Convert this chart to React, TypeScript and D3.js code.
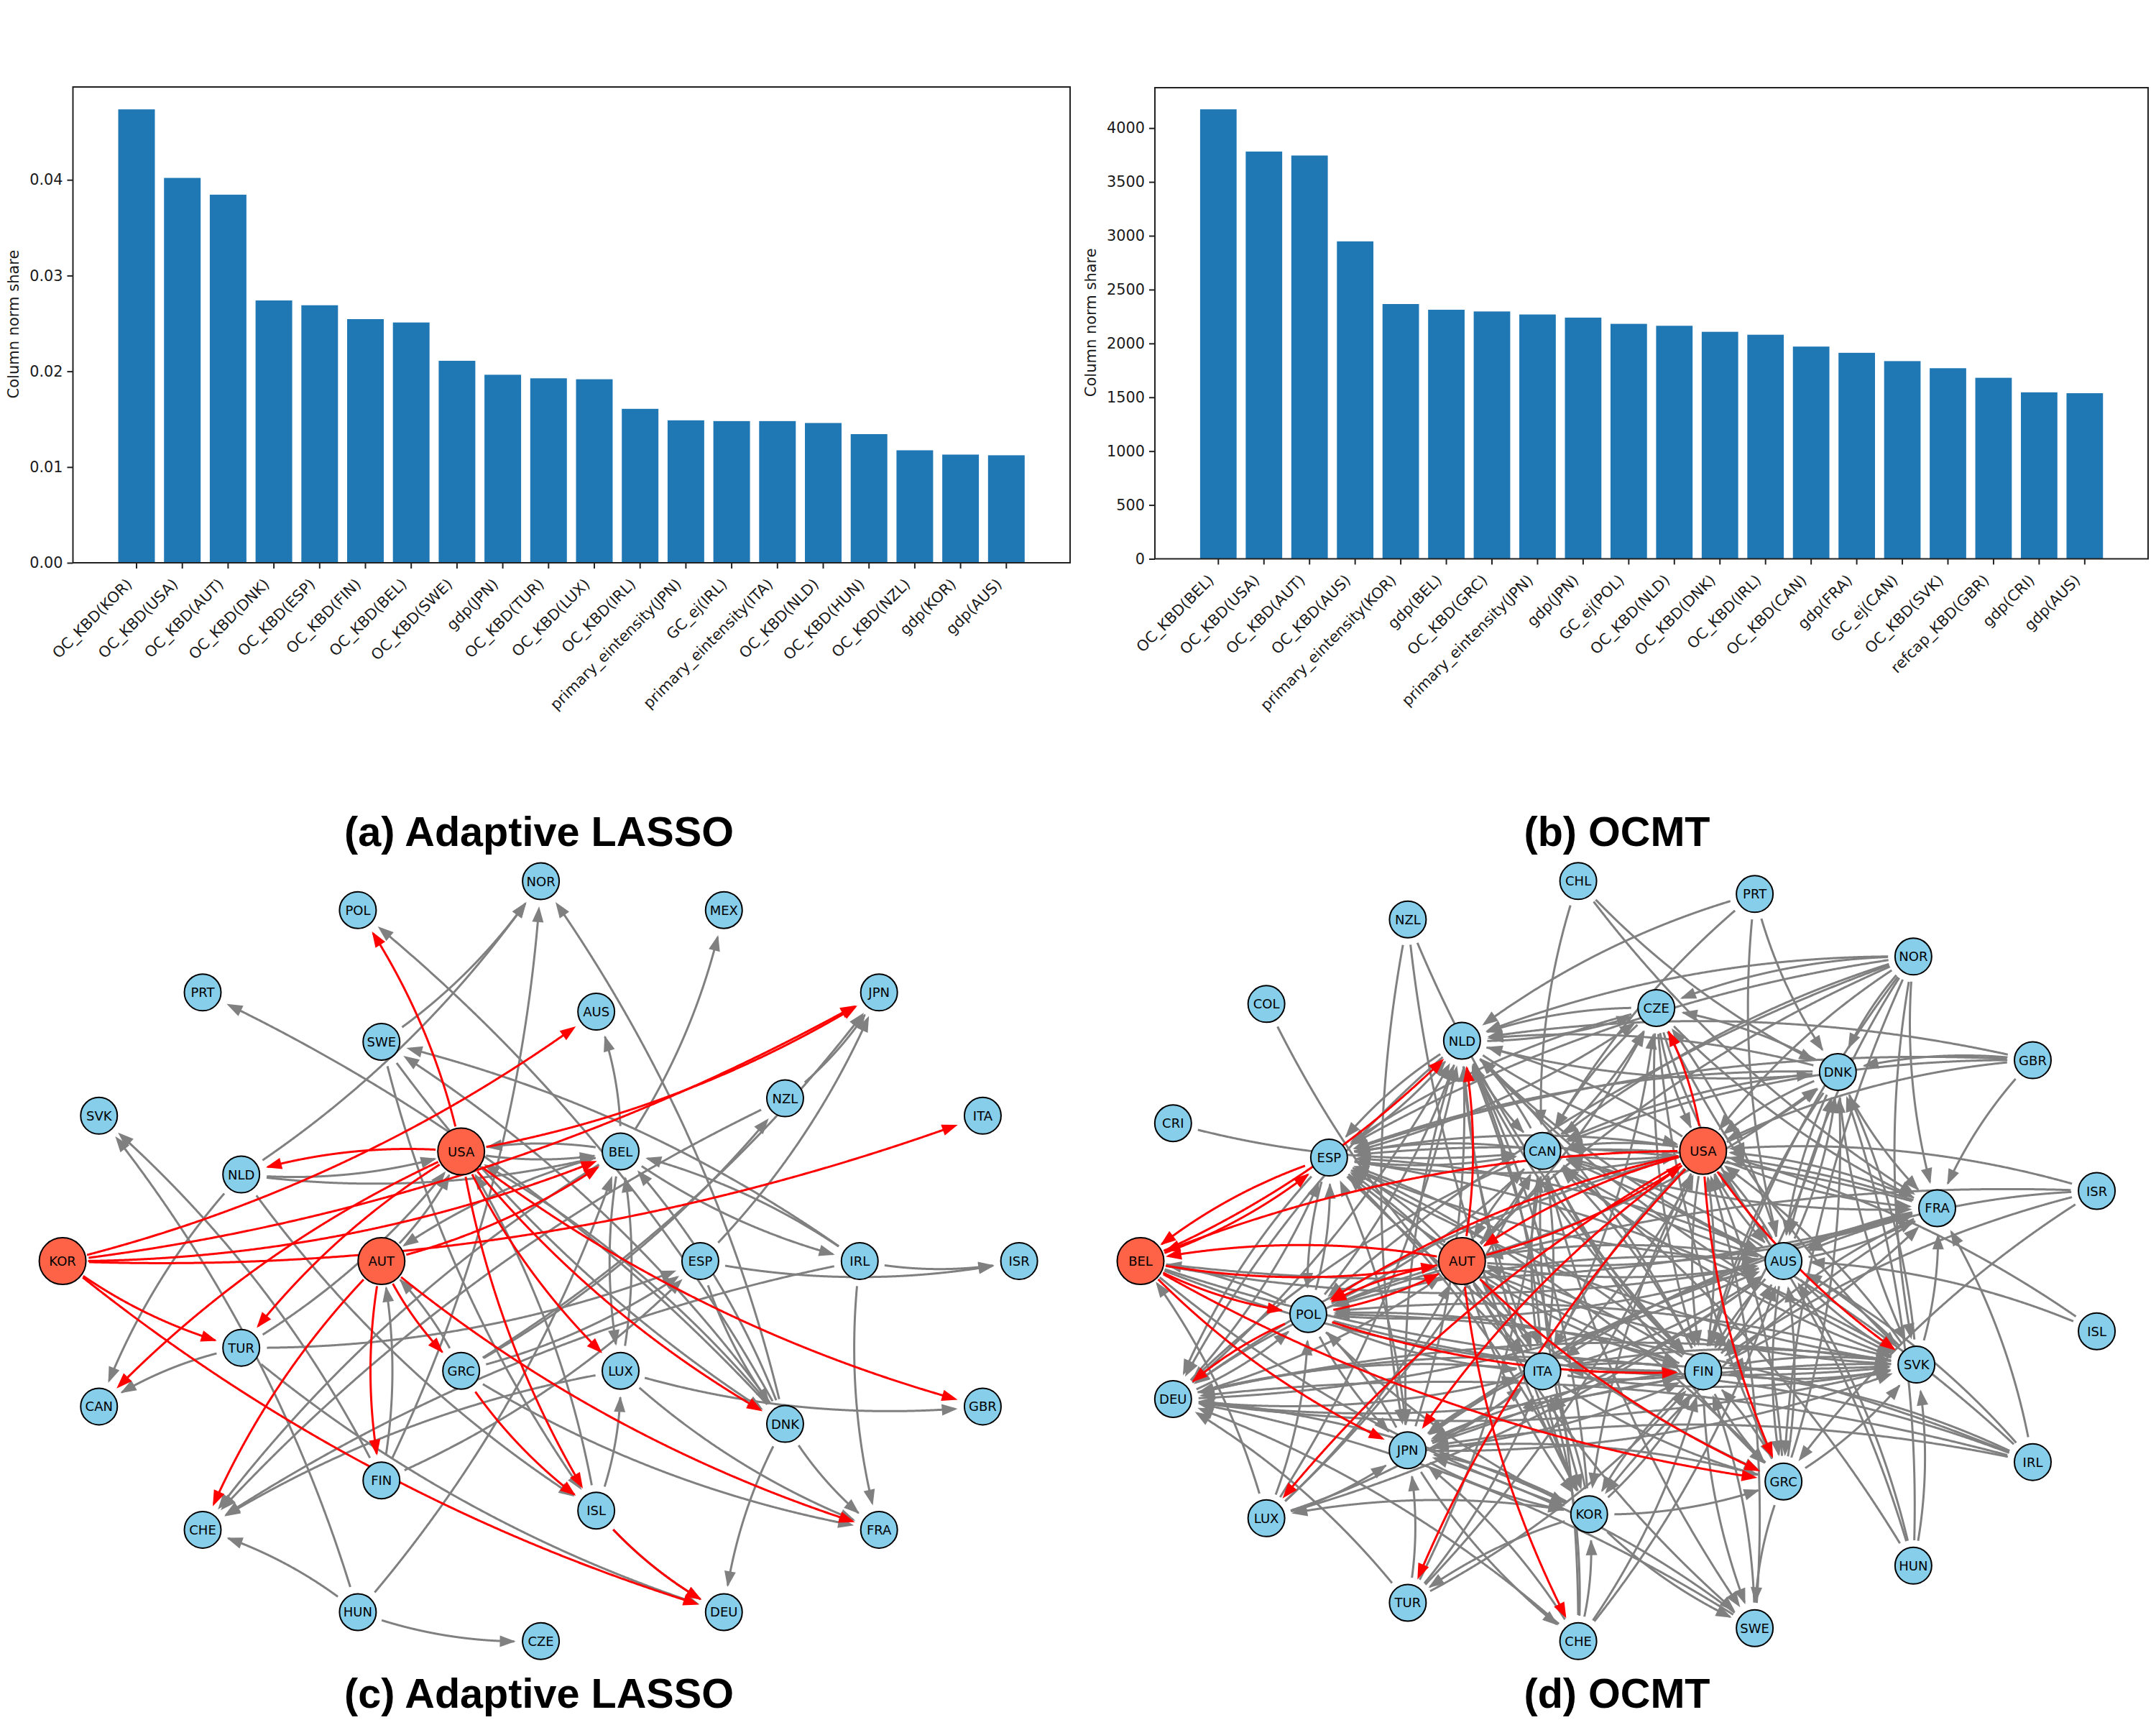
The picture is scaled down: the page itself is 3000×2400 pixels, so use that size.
import * as d3 from 'd3';
import { useEffect, useRef } from 'react';

const lassoLabels = ['OC_KBD(KOR)', 'OC_KBD(USA)', 'OC_KBD(AUT)', 'OC_KBD(DNK)', 'OC_KBD(ESP)', 'OC_KBD(FIN)', 'OC_KBD(BEL)', 'OC_KBD(SWE)', 'gdp(JPN)', 'OC_KBD(TUR)', 'OC_KBD(LUX)', 'OC_KBD(IRL)', 'primary_eintensity(JPN)', 'GC_ej(IRL)', 'primary_eintensity(ITA)', 'OC_KBD(NLD)', 'OC_KBD(HUN)', 'OC_KBD(NZL)', 'gdp(KOR)', 'gdp(AUS)'];
const lassoValues = [0.04736, 0.0402, 0.03845, 0.0274, 0.0269, 0.02545, 0.0251, 0.0211, 0.01964, 0.01927, 0.01917, 0.01608, 0.01488, 0.0148, 0.0148, 0.0146, 0.01344, 0.01175, 0.0113, 0.01123];
const lassoTicks = [0, 0.01, 0.02, 0.03, 0.04];

const ocmtLabels = ['OC_KBD(BEL)', 'OC_KBD(USA)', 'OC_KBD(AUT)', 'OC_KBD(AUS)', 'primary_eintensity(KOR)', 'gdp(BEL)', 'OC_KBD(GRC)', 'primary_eintensity(JPN)', 'gdp(JPN)', 'GC_ej(POL)', 'OC_KBD(NLD)', 'OC_KBD(DNK)', 'OC_KBD(IRL)', 'OC_KBD(CAN)', 'gdp(FRA)', 'GC_ej(CAN)', 'OC_KBD(SVK)', 'refcap_KBD(GBR)', 'gdp(CRI)', 'gdp(AUS)'];
const ocmtValues = [4174, 3782, 3745, 2948, 2366, 2313, 2297, 2269, 2240, 2182, 2164, 2108, 2081, 1971, 1913, 1836, 1770, 1681, 1546, 1538];
const ocmtTicks = [0, 500, 1000, 1500, 2000, 2500, 3000, 3500, 4000];

// shells go clockwise on screen, starting from the angle given in the shell
const lassoOuter = ['KOR', 'SVK', 'PRT', 'POL', 'NOR', 'MEX', 'JPN', 'ITA', 'ISR', 'GBR', 'FRA', 'DEU', 'CZE', 'HUN', 'CHE', 'CAN'];
const lassoMiddle = ['IRL', 'DNK', 'ISL', 'FIN', 'TUR', 'NLD', 'SWE', 'AUS', 'NZL'];
const lassoInner = ['AUT', 'USA', 'BEL', 'ESP', 'LUX', 'GRC'];
const lassoHubs = ['KOR', 'USA', 'AUT'];

const ocmtOuter = ['BEL', 'CRI', 'COL', 'NZL', 'CHL', 'PRT', 'NOR', 'GBR', 'ISR', 'ISL', 'IRL', 'HUN', 'SWE', 'CHE', 'TUR', 'LUX', 'DEU'];
const ocmtMiddle = ['POL', 'ESP', 'NLD', 'CZE', 'DNK', 'FRA', 'SVK', 'GRC', 'KOR', 'JPN'];
const ocmtInner = ['AUT', 'CAN', 'USA', 'AUS', 'FIN', 'ITA'];
const ocmtHubs = ['BEL', 'USA', 'AUT'];

const lassoRed = 'USA>POL USA>NLD USA>TUR USA>CAN USA>JPN USA>DNK USA>GBR USA>LUX USA>ISL KOR>TUR KOR>DEU KOR>ITA KOR>AUS KOR>JPN KOR>BEL AUT>FIN AUT>CHE AUT>GRC AUT>FRA AUT>BEL GRC>ISL ISL>DEU'.split(' ');
const lassoGray = 'NLD>NOR SWE>NOR FIN>NOR DNK>NOR DNK>POL DNK>PRT BEL>MEX BEL>AUS IRL>SWE DNK>SWE SWE>ISL SWE>DNK NZL>JPN ESP>JPN GRC>JPN GRC>NZL NZL>CHE IRL>BEL BEL>IRL BEL>USA USA>BEL NLD>USA NLD>BEL TUR>ESP GRC>ESP TUR>USA AUT>USA BEL>AUT LUX>BEL BEL>LUX ISL>LUX DNK>BEL DNK>USA ISL>USA IRL>ISR ESP>ISR IRL>FRA LUX>GBR LUX>FRA LUX>CHE GRC>FRA DNK>FRA DNK>DEU BEL>CHE IRL>CHE HUN>BEL HUN>CHE HUN>CZE HUN>SVK FIN>SVK TUR>DEU TUR>CAN FIN>AUT NLD>CAN NLD>ISL ISL>DEU GRC>AUT FIN>ESP ESP>DNK'.split(' ');

const ocmtRed = 'USA>CZE USA>BEL USA>AUT AUT>USA USA>POL AUT>POL POL>AUT BEL>AUT AUT>BEL BEL>NLD AUT>NLD ESP>BEL BEL>ESP BEL>POL POL>FIN BEL>JPN BEL>GRC AUT>GRC USA>JPN USA>LUX USA>TUR AUT>CHE USA>GRC USA>SVK POL>DEU'.split(' ');
const ocmtGrayOuter = 'NZL>JPN NZL>KOR NZL>FIN COL>ITA CRI>CAN CHL>CAN CHL>DNK CHL>FRA PRT>NLD PRT>CAN PRT>DNK PRT>AUS NOR>NLD NOR>CZE NOR>ESP NOR>CAN NOR>USA NOR>AUT NOR>DNK NOR>POL NOR>FRA NOR>AUS NOR>SVK NOR>GRC NOR>FIN GBR>NLD GBR>DNK GBR>USA GBR>CAN GBR>FRA GBR>ESP ISR>USA ISR>AUS ISR>POL ISR>FIN ISR>GRC ISL>USA ISL>AUS IRL>AUS IRL>FRA IRL>FIN IRL>ITA IRL>JPN IRL>DEU IRL>POL IRL>CAN HUN>SVK HUN>AUS HUN>USA HUN>CAN HUN>DNK SWE>USA SWE>JPN SWE>DEU SWE>FIN CHE>DEU CHE>ITA CHE>KOR CHE>FIN CHE>AUS CHE>NLD CHE>JPN TUR>DEU TUR>JPN TUR>ITA TUR>FIN TUR>CAN TUR>USA LUX>BEL LUX>JPN LUX>POL LUX>NLD LUX>ITA LUX>AUS LUX>CAN LUX>AUT DEU>ESP DEU>POL DEU>ITA DEU>NLD DEU>AUS DEU>FIN DEU>SVK DEU>AUT BEL>FIN BEL>SVK BEL>AUS BEL>FRA BEL>KOR'.split(' ');
const ocmtGrayMiddle = 'ESP>CAN ESP>USA ESP>AUS ESP>FIN ESP>SVK ESP>GRC ESP>DEU ESP>NLD ESP>CZE ESP>POL NLD>ESP NLD>CZE NLD>USA NLD>DNK NLD>AUS NLD>FIN NLD>KOR NLD>JPN NLD>CAN NLD>SVK NLD>ITA NLD>DEU CZE>NLD CZE>ESP CZE>CAN CZE>USA CZE>FRA CZE>AUS CZE>GRC CZE>FIN CZE>SVK DNK>CZE DNK>NLD DNK>ESP DNK>USA DNK>CAN DNK>FRA DNK>SVK DNK>AUS DNK>FIN FRA>AUS FRA>FIN FRA>USA FRA>ESP FRA>JPN FRA>KOR FRA>CAN FRA>ITA SVK>FIN SVK>AUS SVK>FRA SVK>ITA SVK>ESP SVK>USA SVK>JPN SVK>DEU SVK>DNK SVK>POL GRC>SWE GRC>AUS GRC>FIN GRC>JPN GRC>DNK GRC>SVK GRC>USA GRC>ESP KOR>JPN KOR>GRC KOR>TUR KOR>LUX KOR>SWE KOR>ITA KOR>ESP KOR>NLD KOR>FIN KOR>DEU JPN>POL JPN>ESP JPN>NLD JPN>SVK JPN>ITA JPN>FIN JPN>AUS JPN>KOR JPN>CHE POL>ESP POL>NLD POL>CAN POL>AUS POL>SVK POL>ITA POL>KOR POL>JPN POL>BEL'.split(' ');
const ocmtGrayInner = 'AUT>CZE AUT>ESP AUT>CAN AUT>AUS AUT>FIN AUT>SVK AUT>ITA AUT>KOR AUT>SWE AUT>DEU AUT>FRA AUT>DNK CAN>ESP CAN>CZE CAN>NLD CAN>USA CAN>AUS CAN>FIN CAN>KOR CAN>FRA CAN>SVK CAN>GRC CAN>ITA CAN>AUT CAN>SWE CAN>DEU USA>ESP USA>NLD USA>FRA USA>ITA USA>FIN USA>KOR USA>DNK USA>AUS USA>DEU USA>CAN AUS>USA AUS>DNK AUS>FRA AUS>SVK AUS>FIN AUS>GRC AUS>CAN AUS>ESP AUS>AUT AUS>POL AUS>CZE AUS>JPN FIN>AUS FIN>USA FIN>CAN FIN>AUT FIN>ESP FIN>NLD FIN>SVK FIN>GRC FIN>KOR FIN>SWE FIN>JPN FIN>ITA FIN>POL FIN>DEU FIN>DNK FIN>FRA ITA>FIN ITA>AUT ITA>USA ITA>CAN ITA>ESP ITA>NLD ITA>SVK ITA>JPN ITA>KOR ITA>AUS ITA>GRC ITA>DEU ITA>CZE'.split(' ');

const barColor = '#1f77b4';
const leafColor = '#87ceeb';
const hubColor = '#ff6347';
const edgeGray = '#808080';
const edgeRed = '#ff0000';
const dejavu = '"DejaVu Sans", sans-serif';

type Pt = { x: number; y: number };

function drawBars(
  svg: d3.Selection<SVGSVGElement, unknown, null, undefined>,
  opts: { left: number; right: number; top: number; bottom: number; firstTick: number; step: number; yMax: number; labels: string[]; values: number[]; ticks: number[]; format: (d: number) => string; labelX: number }
) {
  const { left, right, top, bottom, firstTick, step, yMax, labels, values, ticks, format, labelX } = opts;
  const x = d3
    .scaleBand<string>()
    .domain(labels)
    .range([firstTick - step / 2, firstTick - step / 2 + step * labels.length])
    .paddingInner(0.2)
    .paddingOuter(0.1);
  const y = d3.scaleLinear().domain([0, yMax]).range([bottom, top]);
  const g = svg.append('g');

  g.selectAll('rect.bar')
    .data(values)
    .enter()
    .append('rect')
    .attr('class', 'bar')
    .attr('x', (_, i) => x(labels[i]) as number)
    .attr('y', (d) => y(d))
    .attr('width', x.bandwidth())
    .attr('height', (d) => bottom - y(d))
    .attr('fill', barColor);

  g.append('rect')
    .attr('x', left)
    .attr('y', top)
    .attr('width', right - left)
    .attr('height', bottom - top)
    .attr('fill', 'none')
    .attr('stroke', '#222')
    .attr('stroke-width', 2);

  g.append('g')
    .attr('transform', `translate(${left},0)`)
    .call(d3.axisLeft(y).tickValues(ticks).tickSize(8).tickPadding(6).tickFormat((d) => format(d as number)))
    .call((a) => a.select('.domain').remove())
    .call((a) => a.selectAll('.tick line').attr('stroke', '#222').attr('stroke-width', 2))
    .call((a) => a.selectAll('.tick text').attr('fill', '#1a1a1a').style('font-size', '20.8px').style('font-family', dejavu));

  g.append('g')
    .attr('transform', `translate(0,${bottom})`)
    .call(d3.axisBottom(x).tickSize(8).tickPadding(0))
    .call((a) => a.select('.domain').remove())
    .call((a) => a.selectAll('.tick line').attr('stroke', '#222').attr('stroke-width', 2))
    .call((a) =>
      a
        .selectAll('.tick text')
        .attr('fill', '#1a1a1a')
        .attr('dy', 0)
        .attr('y', 0)
        .attr('text-anchor', 'end')
        .attr('transform', 'translate(-5,31) rotate(-45)')
        .style('font-size', '21px')
        .style('font-family', dejavu)
    );

  g.append('text')
    .attr('transform', `translate(${labelX},${(top + bottom) / 2 - 1}) rotate(-90)`)
    .attr('text-anchor', 'middle')
    .attr('dominant-baseline', 'central')
    .attr('fill', '#1a1a1a')
    .style('font-size', '21px')
    .style('font-family', dejavu)
    .text('Column norm share');
}

function drawNetwork(
  svg: d3.Selection<SVGSVGElement, unknown, null, undefined>,
  opts: {
    cx: number;
    cy: number;
    rx: number;
    ry: number;
    shells: { names: string[]; start: number; radius: number }[];
    hubs: string[];
    gray: string[];
    red: string[];
  }
) {
  const { cx, cy, rx, ry, shells, hubs, gray, red } = opts;
  const x = d3.scaleLinear().domain([-1, 1]).range([cx - rx, cx + rx]);
  const y = d3.scaleLinear().domain([-1, 1]).range([cy - ry, cy + ry]);

  const pos = new Map<string, Pt>();
  shells.forEach((shell) => {
    shell.names.forEach((name, i) => {
      const a = ((shell.start + (i * 360) / shell.names.length) * Math.PI) / 180;
      pos.set(name, { x: x(shell.radius * Math.cos(a)), y: y(shell.radius * Math.sin(a)) });
    });
  });

  const g = svg.append('g');
  const trim = 35;
  const rad = 0.1;

  const drawEdges = (list: string[], color: string) => {
    list.forEach((edge) => {
      const [from, to] = edge.split('>');
      const a = pos.get(from) as Pt;
      const b = pos.get(to) as Pt;
      const dx = b.x - a.x;
      const dy = b.y - a.y;
      const c = { x: (a.x + b.x) / 2 - rad * dy, y: (a.y + b.y) / 2 + rad * dx };
      const at = (t: number): Pt => ({
        x: (1 - t) * (1 - t) * a.x + 2 * t * (1 - t) * c.x + t * t * b.x,
        y: (1 - t) * (1 - t) * a.y + 2 * t * (1 - t) * c.y + t * t * b.y,
      });
      const ts = d3.range(0, 1.0001, 0.002);
      const t0 = ts.find((t) => Math.hypot(at(t).x - a.x, at(t).y - a.y) >= trim) as number;
      const t1 = [...ts].reverse().find((t) => Math.hypot(at(t).x - b.x, at(t).y - b.y) >= trim) as number;
      const tip = at(t1);
      const back = at(t1 - 0.01);
      const ang = Math.atan2(tip.y - back.y, tip.x - back.x);

      // line stops under the arrow head
      const points = ts.filter((t) => t >= t0 && t <= t1).map(at);
      const line = d3.line<Pt>().x((p) => p.x).y((p) => p.y);
      g.append('path')
        .attr('d', line(points.slice(0, -4)) as string)
        .attr('fill', 'none')
        .attr('stroke', color)
        .attr('stroke-width', 3);

      const head = d3.path();
      head.moveTo(0, 0);
      head.lineTo(-22, -8);
      head.lineTo(-22, 8);
      head.closePath();
      g.append('path')
        .attr('d', head.toString())
        .attr('fill', color)
        .attr('transform', `translate(${tip.x},${tip.y}) rotate(${(ang * 180) / Math.PI})`);
    });
  };

  drawEdges(gray, edgeGray);
  drawEdges(red, edgeRed);

  const nodes = g
    .selectAll('g.node')
    .data(Array.from(pos.entries()))
    .enter()
    .append('g')
    .attr('class', 'node')
    .attr('transform', (d) => `translate(${d[1].x},${d[1].y})`);

  nodes
    .append('circle')
    .attr('r', (d) => (hubs.includes(d[0]) ? 32.5 : 25.5))
    .attr('fill', (d) => (hubs.includes(d[0]) ? hubColor : leafColor))
    .attr('stroke', '#000')
    .attr('stroke-width', 2);

  nodes
    .append('text')
    .attr('text-anchor', 'middle')
    .attr('dominant-baseline', 'central')
    .attr('fill', '#000')
    .style('font-size', '18px')
    .style('font-family', dejavu)
    .text((d) => d[0]);
}

export default function App() {
  const svgRef = useRef<SVGSVGElement>(null);

  useEffect(() => {
    if (!svgRef.current) return;
    const svg = d3.select(svgRef.current);
    svg.selectAll('*').remove();

    drawBars(svg, {
      left: 101.5, right: 1489, top: 121, bottom: 783, firstTick: 190, step: 63.7, yMax: 0.0497,
      labels: lassoLabels, values: lassoValues, ticks: lassoTicks, format: (d) => d.toFixed(2), labelX: 19,
    });
    drawBars(svg, {
      left: 1607, right: 2989, top: 122, bottom: 777.5, firstTick: 1695.3, step: 63.45, yMax: 4375,
      labels: ocmtLabels, values: ocmtValues, ticks: ocmtTicks, format: (d) => String(d), labelX: 1518,
    });

    drawNetwork(svg, {
      cx: 752.6, cy: 1754.6, rx: 665.5, ry: 528.6,
      shells: [
        { names: lassoOuter, start: 180, radius: 1 },
        { names: lassoMiddle, start: 0, radius: 2 / 3 },
        { names: lassoInner, start: 180, radius: 1 / 3 },
      ],
      hubs: lassoHubs, gray: lassoGray, red: lassoRed,
    });
    drawNetwork(svg, {
      cx: 2258, cy: 1754.6, rx: 671, ry: 531,
      shells: [
        { names: ocmtOuter, start: 180, radius: 1 },
        { names: ocmtMiddle, start: 168, radius: 2 / 3 },
        { names: ocmtInner, start: 180, radius: 1 / 3 },
      ],
      hubs: ocmtHubs, gray: [...ocmtGrayOuter, ...ocmtGrayMiddle, ...ocmtGrayInner], red: ocmtRed,
    });

    const titles = [
      { text: '(a) Adaptive LASSO', x: 750, y: 1177 },
      { text: '(b) OCMT', x: 2250, y: 1177 },
      { text: '(c) Adaptive LASSO', x: 750, y: 2376 },
      { text: '(d) OCMT', x: 2250, y: 2376 },
    ];
    svg
      .selectAll('text.title')
      .data(titles)
      .enter()
      .append('text')
      .attr('class', 'title')
      .attr('x', (d) => d.x)
      .attr('y', (d) => d.y)
      .attr('text-anchor', 'middle')
      .attr('fill', '#000')
      .style('font-family', '"Liberation Sans", Arial, sans-serif')
      .style('font-weight', 700)
      .style('font-size', '57.6px')
      .text((d) => d.text);
  }, []);

  return (
    <svg
      ref={svgRef}
      width={3000}
      height={2400}
      style={{ position: 'absolute', left: 0, top: 0, background: '#fff' }}
    />
  );
}
